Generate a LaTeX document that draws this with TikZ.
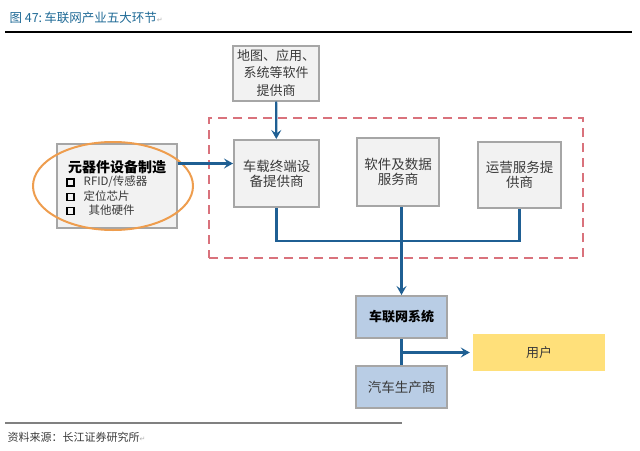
\documentclass[tikz,border=0pt]{standalone}
\usepackage{fontspec}
\setmainfont{Noto Sans CJK SC}
\newfontfamily\symfont{DejaVu Sans}
\usepackage{xcolor}
\usetikzlibrary{arrows.meta,positioning,shapes.geometric}
\definecolor{titleblue}{HTML}{1F6A96}
\definecolor{boxgray}{HTML}{A6A6A6}
\definecolor{boxfill}{HTML}{F2F2F2}
\definecolor{textgray}{HTML}{3A3A3A}
\definecolor{sysblue}{HTML}{B9CDE5}
\definecolor{useryellow}{HTML}{FFE07A}
\definecolor{linkblue}{HTML}{1F5F93}
\definecolor{dashred}{HTML}{D9727C}
\definecolor{ringorange}{HTML}{EE9D4E}
\newcommand{\itemsquare}{{\setlength{\fboxsep}{0pt}\setlength{\fboxrule}{1.5pt}\color{black}\raisebox{0.5pt}{\fbox{\rule{0pt}{5.5pt}\hspace{5.5pt}}}}}

\begin{document}
\begin{tikzpicture}[
    x=1pt, y=-1pt,
    box/.style={rectangle, draw=boxgray, line width=2pt, fill=boxfill, align=center, text=textgray, font=\fontsize{13.5}{15}\selectfont, inner sep=2pt},
    sysbox/.style={box, fill=sysblue},
    item/.style={anchor=west, text=textgray, font=\fontsize{11.5}{13}\selectfont, inner sep=0pt},
    link/.style={draw=linkblue, line width=2.2pt},
    >={Stealth[length=9pt, width=10pt, inset=3.5pt]}
]
\useasboundingbox (0,0) rectangle (640,450);

% 标题
\node[anchor=west, text=titleblue, font=\fontsize{12.5}{15}\selectfont] (title) at (6,18) {图 47:\,车联网产业五大环节{\symfont\color{gray!60}\fontsize{7}{8}\selectfont ↵}};
\draw[line width=1.2pt] (5,32) -- (632,32);

% 虚线框
\node[draw=dashred, dashed, dash pattern=on 9pt off 6pt, line width=2.2pt, minimum width=374pt, minimum height=140pt] (group) at (396,188) {};

% 上游
\node[box, minimum width=86pt, minimum height=55pt, font=\fontsize{13}{17.5}\selectfont] (soft) at (276,73) {地图、应用、\\系统等软件\\提供商};

% 三个环节
\node[box, minimum width=85pt, minimum height=67pt] (term) at (276.5,173.5) {车载终端设\\备提供商};
\node[box, minimum width=82pt, minimum height=68pt] (data) at (398,172) {软件及数据\\服务商};
\node[box, minimum width=83pt, minimum height=66pt] (ops) at (519.5,175) {运营服务提\\供商};

% 元器件
\node[box, minimum width=120pt, minimum height=84pt] (parts) at (117,186) {};
\node[text=black, font=\bfseries\fontsize{14}{15}\selectfont, inner sep=0pt] (partstitle) at (117,167) {元器件设备制造};
\node[item] (item1) at (66,182) {\itemsquare\hspace{9pt}RFID/传感器};
\node[item] (item2) at (66,196) {\itemsquare\hspace{9pt}定位芯片};
\node[item] (item3) at (66,210) {\itemsquare\hspace{14pt}其他硬件};
\node[ellipse, draw=ringorange, line width=2pt, minimum width=160pt, minimum height=88pt] (ring) at (113,186) {};

% 下游
\node[sysbox, minimum width=91pt, minimum height=42pt, text=black, font=\bfseries\fontsize{13}{15}\selectfont] (sys) at (401.5,317) {车联网系统};
\node[sysbox, minimum width=91pt, minimum height=42pt] (maker) at (401.5,387) {汽车生产商};
\node[rectangle, fill=useryellow, minimum width=132pt, minimum height=37pt, text=textgray, font=\fontsize{13}{15}\selectfont] (user) at (539,352.5) {用户};

% 连接线
\coordinate (feed) at ([yshift=10pt]term.west);
\coordinate (bus) at (0,241);
\draw[link, ->] (soft) -- (term);
\draw[link, ->] (parts.east |- feed) -- (feed);
\draw[link] (term.south) -- (term.south |- bus) -- (ops.south |- bus) -- (ops.south);
\draw[link, ->] (sys.north |- data.south) -- (sys.north);
\draw[link] (sys) -- (maker);
\draw[link, ->] (sys.south |- user.west) -- ([xshift=-3pt]user.west);

% 资料来源
\draw[draw=gray, line width=1.2pt] (5,423) -- (402,423);
\node[anchor=west, text=textgray, font=\fontsize{11}{13}\selectfont] (source) at (4,437) {资料来源：长江证券研究所{\symfont\color{gray!60}\fontsize{7}{8}\selectfont ↵}};

\end{tikzpicture}
\end{document}
